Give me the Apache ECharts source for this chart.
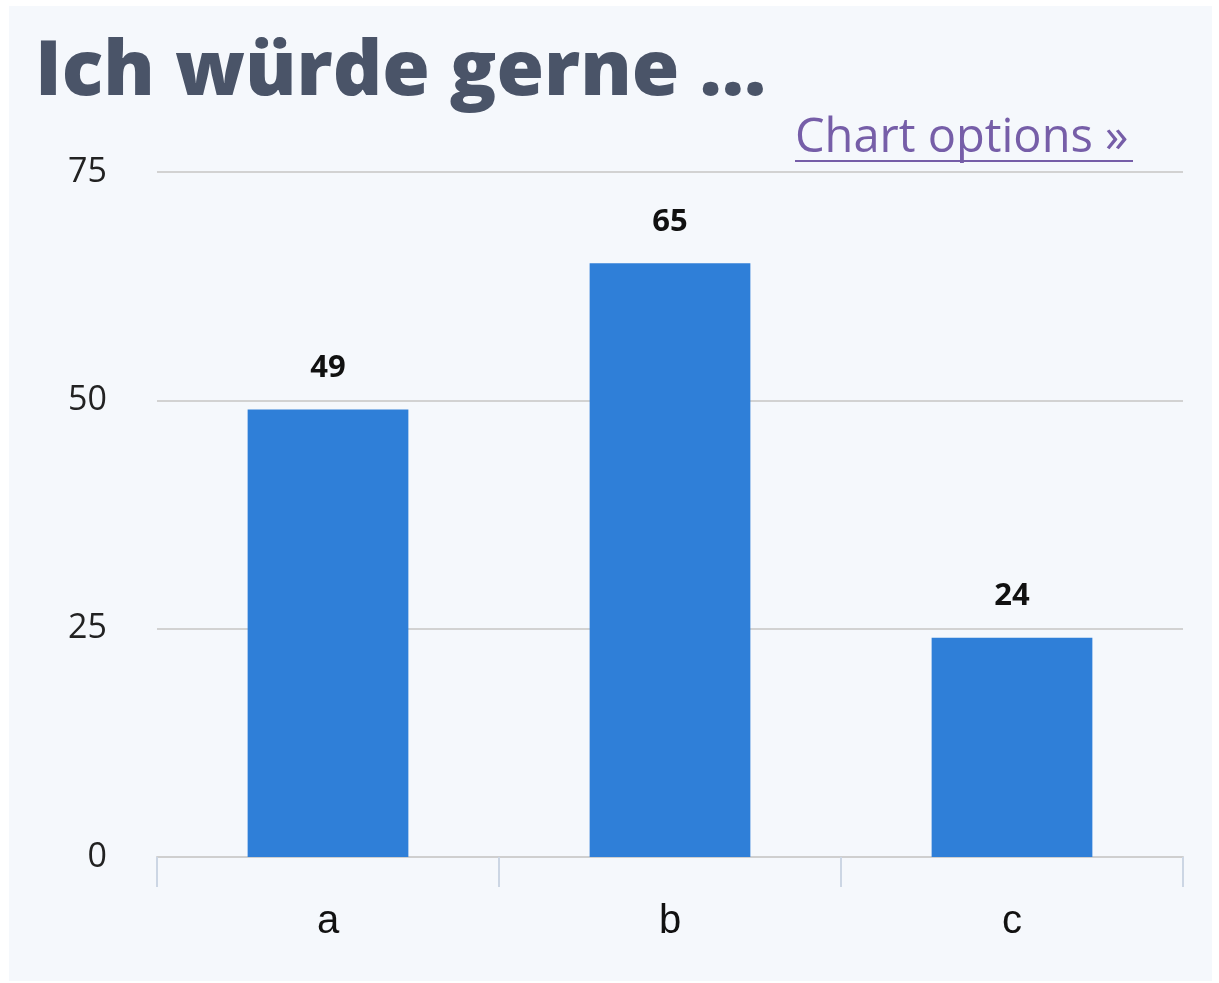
<!DOCTYPE html>
<html>
<head>
<meta charset="utf-8">
<script src="https://cdn.jsdelivr.net/npm/echarts@6/dist/echarts.min.js"></script>
<style>
  html, body { margin: 0; padding: 0; background: #ffffff; }
  #panel { position: absolute; left: 9px; top: 6px; width: 1203px; height: 975px; background: #f5f8fc; }
  #chart { position: absolute; left: 0; top: 0; width: 1219px; height: 983px; }
</style>
</head>
<body>
<div id="panel"></div>
<div id="chart"></div>
<script>
// Daten
const categories = ["a", "b", "c"];
const values = [49, 65, 24];
const yTicks = [0, 25, 50, 75];

const chart = echarts.init(document.getElementById("chart"));

chart.setOption({
  backgroundColor: "transparent",
  animation: false,
  title: {
    text: "Ich würde gerne ...",
    left: 30,
    top: 30,
    textStyle: {
      fontFamily: "Open Sans",
      fontWeight: 800,
      fontSize: 77,
      color: "#4a5468",
    },
  },
  graphic: [
    {
      type: "group",
      left: 795,
      top: 115,
      children: [
        {
          type: "text",
          style: {
            text: "Chart options »",
            font: "400 47px 'Open Sans'",
            fill: "#765ea8",
          },
        },
        {
          type: "rect",
          shape: { x: 0, y: 45, width: 338, height: 2 },
          style: { fill: "#765ea8" },
        },
      ],
    },
  ],
  grid: {
    left: 157,
    right: 36,
    top: 172,
    bottom: 126,
  },
  xAxis: {
    type: "category",
    data: categories,
    axisLine: { lineStyle: { color: "#cfcfcf", width: 2 } },
    axisTick: { show: true, length: 30, lineStyle: { color: "#ccd6e4", width: 2 } },
    axisLabel: {
      fontFamily: "Liberation Sans",
      fontSize: 40,
      color: "#111",
      margin: 45,
    },
  },
  yAxis: {
    type: "value",
    min: yTicks[0],
    max: yTicks[yTicks.length - 1],
    interval: 25,
    axisLine: { show: false },
    axisTick: { show: false },
    axisLabel: {
      fontFamily: "Open Sans",
      fontSize: 34,
      color: "#222",
      margin: 50,
    },
    splitLine: { lineStyle: { color: "#d2d2d2", width: 2 } },
  },
  series: [
    {
      type: "bar",
      data: values,
      barWidth: "47%",
      itemStyle: { color: "#2f7fd8" },
      label: {
        show: true,
        position: "top",
        distance: 26,
        fontFamily: "Open Sans",
        fontWeight: "bold",
        fontSize: 31,
        color: "#111",
      },
    },
  ],
});
</script>
</body>
</html>
